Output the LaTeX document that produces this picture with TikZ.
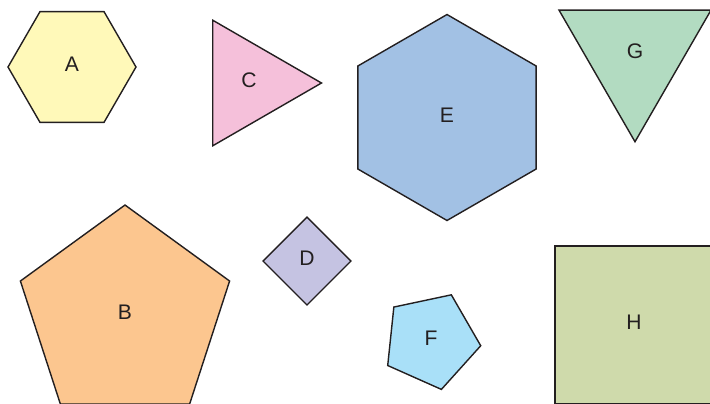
\documentclass[tikz,border=0pt]{standalone}
\usepackage{fontspec}
\setmainfont{Liberation Sans}
\usepackage{xcolor}
\usepackage{tikz}
\usetikzlibrary{shapes.geometric}
\definecolor{inkdark}{HTML}{231F20}
\definecolor{hexyellow}{HTML}{FFF9B9}
\definecolor{tripink}{HTML}{F5C0DA}
\definecolor{hexblue}{HTML}{A2C1E4}
\definecolor{trigreen}{HTML}{B2DBC1}
\definecolor{pentorange}{HTML}{FCC68F}
\definecolor{sqlilac}{HTML}{C5C3E2}
\definecolor{pentcyan}{HTML}{A9E0F8}
\definecolor{sqolive}{HTML}{CFDAAB}
\tikzset{
  shp/.style={draw=inkdark, line width=0.8pt, line join=miter, text=inkdark,
              font=\fontsize{12}{14}\selectfont, inner sep=0pt, outer sep=0pt,
              text depth=2.8pt},
  poly/.style n args={3}{shp, regular polygon, regular polygon sides=#1,
              regular polygon rotate=#2, minimum size=#3},
}

\begin{document}
\begin{tikzpicture}[x=0.02cm, y=-0.02cm]
    \useasboundingbox (0,0) rectangle (710,403);
    \clip (0,0) rectangle (710,403);
    % top row
    \node[poly={6}{0}{2.56cm}, fill=hexyellow] (A) at (72,67) {A};
    \node[poly={3}{-90}{2.9cm}, fill=tripink] (C) at (249,83) {C};
    \node[poly={6}{30}{4.12cm}, fill=hexblue] (E) at (447,117.5) {E};
    \node[poly={3}{180}{3.51cm}, fill=trigreen] (G) at (635,54) {G};
    % bottom row
    \node[poly={5}{0}{4.4cm}, fill=pentorange] (B) at (125,315) {B};
    \node[poly={4}{45}{1.76cm}, fill=sqlilac] (D) at (307,261) {D};
    \node[poly={5}{-24}{2.0cm}, fill=pentcyan] (F) at (431,340.5) {F};
    \node[shp, rectangle, minimum size=3.16cm, fill=sqolive] (H) at (634,325) {H};
\end{tikzpicture}
\end{document}
